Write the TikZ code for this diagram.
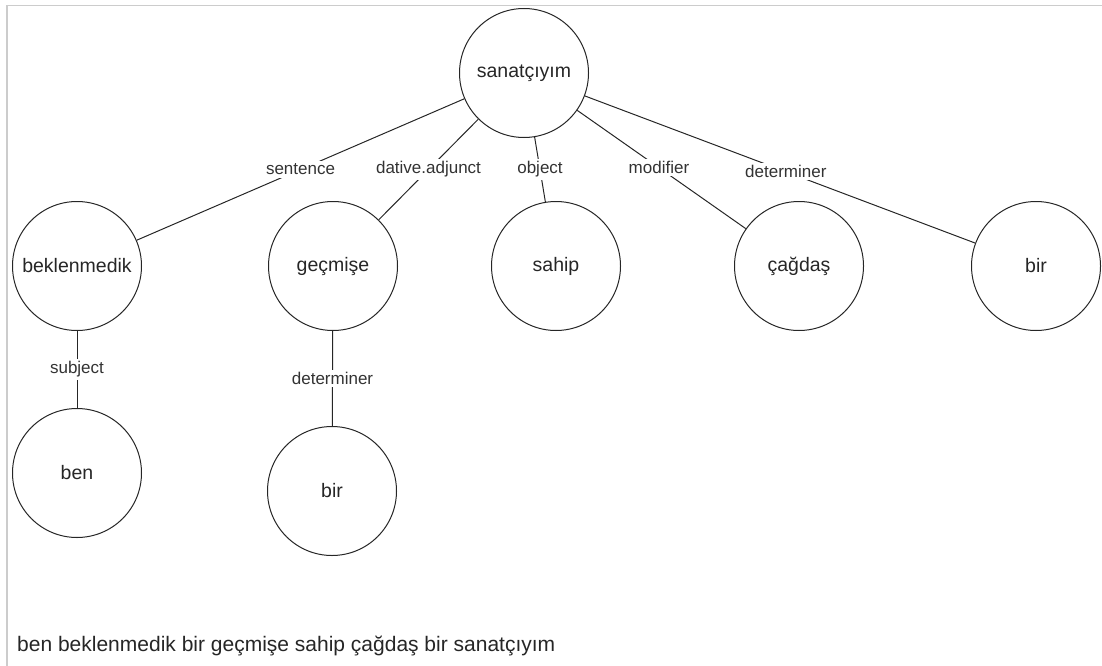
\documentclass[tikz,border=0pt]{standalone}
\usepackage{fontspec}
\setmainfont{Liberation Sans}
\begin{document}
\begin{tikzpicture}[x=1pt,y=-1pt,
  word/.style={circle,draw=black!85,line width=1pt,minimum size=129pt,inner sep=0pt,
    font=\fontsize{19.5}{23}\selectfont,text=black!85},
  rel/.style={fill=white,inner sep=2.5pt,font=\fontsize{17}{20}\selectfont,text=black!80},
  link/.style={draw=black!85,line width=1pt},
  frame/.style={draw=black!20,line width=1.5pt}]
\useasboundingbox (0,0) rectangle (1102,666);
% panel frame (top and left edges only)
\coordinate (fl) at (7,666);
\coordinate (ft) at (7,5.5);
\coordinate (fr) at (1102,5.5);
\draw[frame] (fl) -- (ft) -- (fr);

% words of the sentence
\node[word] (sanat)  at (524,73)  {sanatçıyım};
\node[word] (bek)    at (77,266)  {beklenmedik};
\node[word] (gec)    at (333,266) {geçmişe};
\node[word] (sahip)  at (556,266) {sahip};
\node[word] (cagdas) at (799,266) {çağdaş};
\node[word] (birA)   at (1036,266){bir};
\node[word] (ben)    at (77,473)  {ben};
\node[word] (birB)   at (332,491) {bir};

% dependency relations
\draw[link] (sanat) -- node[rel] {sentence} (bek);
\draw[link] (sanat) -- node[rel] {dative.adjunct} (gec);
\draw[link] (sanat) -- node[rel] {object} (sahip);
\draw[link] (sanat) -- node[rel,pos=0.485] {modifier} (cagdas);
\draw[link] (sanat) -- node[rel,pos=0.515] {determiner} (birA);
\draw[link] (bek) -- node[rel] {subject} (ben);
\draw[link] (gec) -- node[rel] {determiner} (birB);

% the full sentence
\node[anchor=west,inner sep=0pt,font=\fontsize{21}{25}\selectfont,text=black!85] (sent) at (17,646)
  {ben beklenmedik bir geçmişe sahip çağdaş bir sanatçıyım};
\end{tikzpicture}
\end{document}
